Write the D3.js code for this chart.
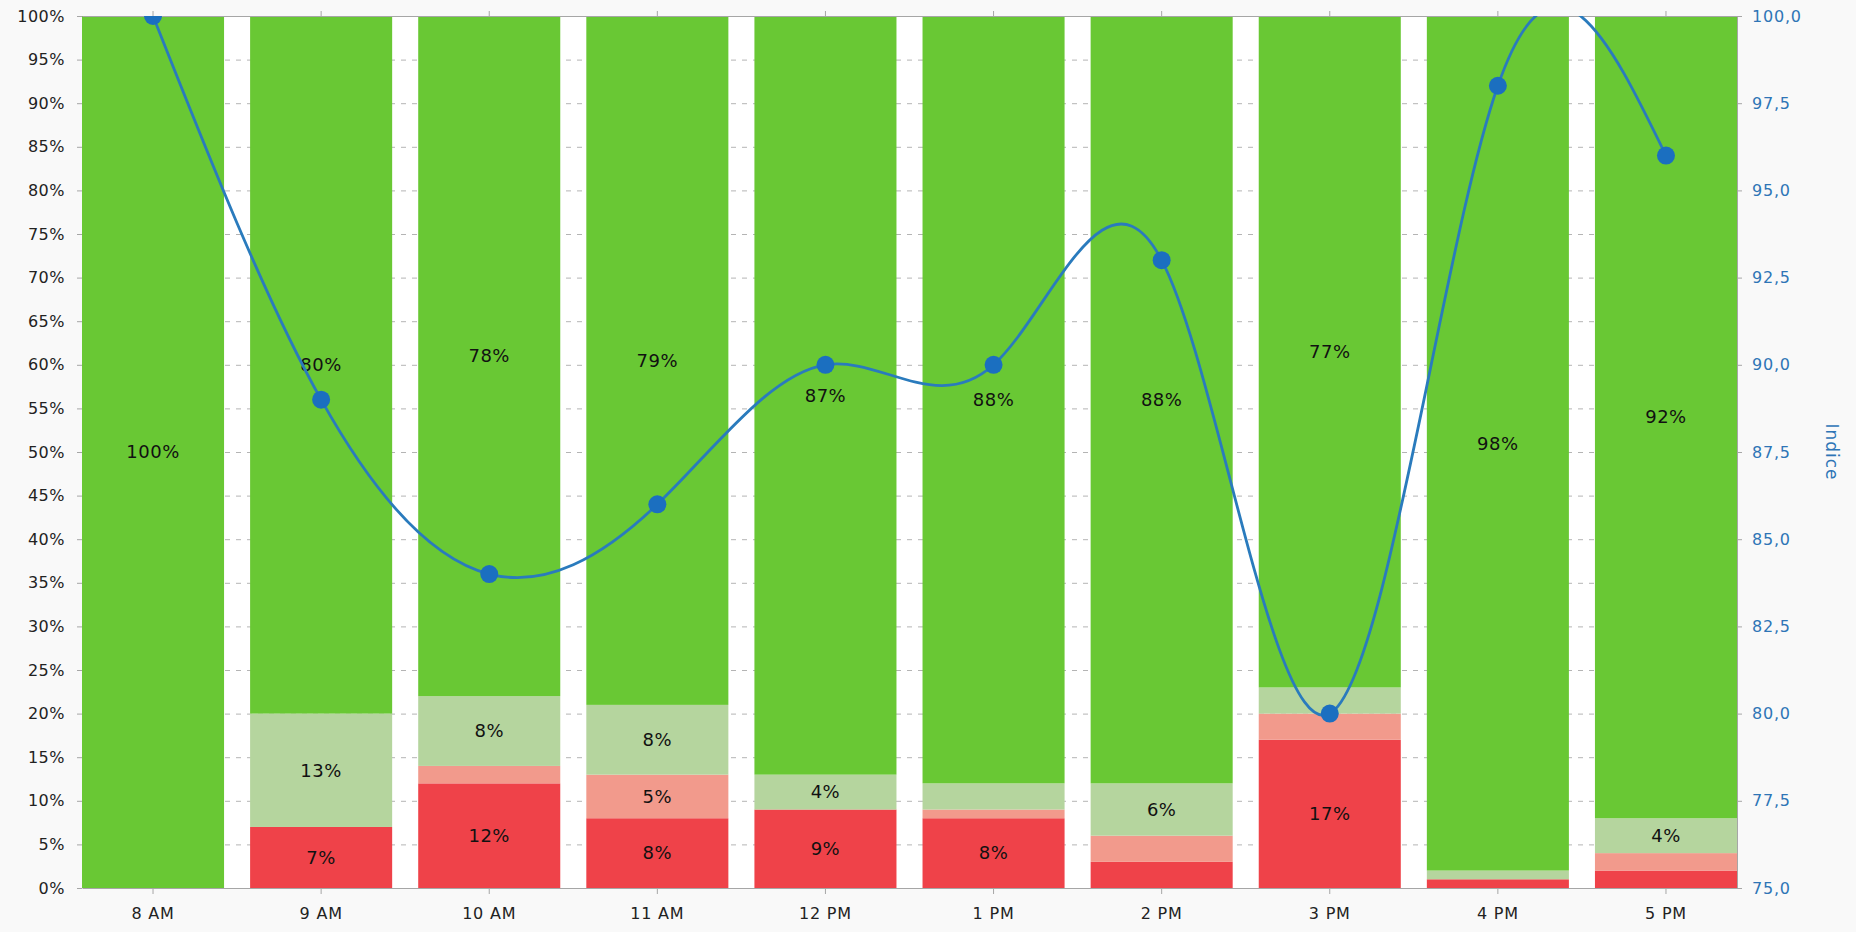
<!DOCTYPE html>
<html>
<head>
<meta charset="utf-8">
<script src="https://cdn.jsdelivr.net/npm/d3@7"></script>
<style>
body { margin:0; background:#f9f9f9; }
svg { display:block; font-family:"DejaVu Sans", Verdana, sans-serif; }
.grid line { stroke:#b4b4b4; stroke-dasharray:5,6; }
.axis path, .axis line { stroke:#a6a6a6; }
</style>
</head>
<body>
<svg id="chart" width="1856" height="932"></svg>
<script>
var hours = ["8 AM","9 AM","10 AM","11 AM","12 PM","1 PM","2 PM","3 PM","4 PM","5 PM"];
var redShare = [0,7,12,8,9,8,3,17,1,2];
var lightRedShare = [0,0,2,5,0,1,3,3,0,2];
var lightGreenShare = [0,13,8,8,4,3,6,3,1,4];
var greenShare = [100,80,78,79,87,88,88,77,98,92];
var indice = [100,89,84,86,90,90,93,80,98,96];
var leftTicks = [0,5,10,15,20,25,30,35,40,45,50,55,60,65,70,75,80,85,90,95,100];
var rightTicks = [75,77.5,80,82.5,85,87.5,90,92.5,95,97.5,100];

var seriesKeys = ["red","lightRed","lightGreen","green"];
var colorData = {red:"#ef4249", lightRed:"#f29a8c", lightGreen:"#b5d59e", green:"#69c834"};

var plotLeft = 82, plotRight = 1737, plotTop = 16, plotBottom = 888;
var svg = d3.select("#chart");

var rows = hours.map(function(h, i){
	return {hour:h, red:redShare[i], lightRed:lightRedShare[i], lightGreen:lightGreenShare[i], green:greenShare[i]};
});
var stacked = d3.stack().keys(seriesKeys)(rows);

var xScale = d3.scaleBand().domain(hours).range([plotLeft, plotRight]).paddingInner(0.155).paddingOuter(0);
var yScale = d3.scaleLinear().domain([0,100]).range([plotBottom, plotTop]);
var y2Scale = d3.scaleLinear().domain([75,100]).range([plotBottom, plotTop]);

svg.append("rect")
	.attr("x", plotLeft).attr("y", plotTop)
	.attr("width", plotRight-plotLeft).attr("height", plotBottom-plotTop)
	.attr("fill", "#ffffff");

// dashed grid behind bars
svg.append("g").attr("class","grid")
	.selectAll("line")
	.data(leftTicks.filter(function(t){ return t>0 && t<100; }))
	.enter().append("line")
	.attr("x1", plotLeft).attr("x2", plotRight)
	.attr("y1", function(t){ return yScale(t)+0.5; })
	.attr("y2", function(t){ return yScale(t)+0.5; });

var layer = svg.append("g").selectAll("g")
	.data(stacked).enter()
	.append("g")
	.attr("fill", function(s){ return colorData[s.key]; });

layer.selectAll("rect")
	.data(function(s){ return s; })
	.enter().append("rect")
	.attr("x", function(d){ return xScale(d.data.hour); })
	.attr("width", xScale.bandwidth())
	.attr("y", function(d){ return yScale(d[1]); })
	.attr("height", function(d){ return yScale(d[0]) - yScale(d[1]); });

// data labels, only for segments of 4% and more
var labelGroup = svg.append("g");
stacked.forEach(function(s){
	s.forEach(function(d){
		var v = d[1]-d[0];
		if(v < 4) return;
		labelGroup.append("text")
			.attr("x", xScale(d.data.hour) + xScale.bandwidth()/2)
			.attr("y", yScale((d[0]+d[1])/2))
			.attr("dy", "0.35em")
			.attr("text-anchor", "middle")
			.attr("font-size", 18)
			.attr("letter-spacing", 0.5)
			.attr("fill", "#111")
			.text(v + "%");
	});
});

// axes
var leftAxis = svg.append("g").attr("class","axis")
	.attr("transform","translate("+plotLeft+",0)")
	.call(d3.axisLeft(yScale).tickValues(leftTicks).tickSize(5).tickPadding(12)
		.tickFormat(function(t){ return t+"%"; }));
leftAxis.select(".domain").remove();
leftAxis.selectAll("text").attr("font-size",16).attr("letter-spacing",0.5).attr("fill","#222").style("font-family","DejaVu Sans");

var bottomAxis = svg.append("g").attr("class","axis")
	.attr("transform","translate(0,"+plotBottom+")")
	.call(d3.axisBottom(xScale).tickSize(6).tickSizeOuter(0).tickPadding(14));
bottomAxis.selectAll("text").attr("font-size",16).attr("letter-spacing",0.8).attr("fill","#222").style("font-family","DejaVu Sans");

var topAxis = svg.append("g").attr("class","axis")
	.attr("transform","translate(0,"+plotTop+")")
	.call(d3.axisTop(xScale).tickSize(5).tickSizeOuter(0).tickFormat(""));

var rightAxis = svg.append("g").attr("class","axis")
	.attr("transform","translate("+plotRight+",0)")
	.call(d3.axisRight(y2Scale).tickValues(rightTicks).tickSize(5).tickSizeOuter(0).tickPadding(10)
		.tickFormat(function(t){ return t.toFixed(1).replace(".", ","); }));
rightAxis.selectAll("text").attr("font-size",16).attr("letter-spacing",0.8).attr("fill","#2e75b6").style("font-family","DejaVu Sans");

svg.append("text")
	.attr("transform","translate(1826,"+((plotTop+plotBottom)/2)+") rotate(90)")
	.attr("text-anchor","middle")
	.attr("font-size",17)
	.attr("letter-spacing",1)
	.attr("fill","#2e75b6")
	.text("Indice");

// natural spline indice line, clipped to the plot area
svg.append("clipPath").attr("id","plotClip")
	.append("rect")
	.attr("x", plotLeft).attr("y", plotTop)
	.attr("width", plotRight-plotLeft).attr("height", plotBottom-plotTop);

var lineGroup = svg.append("g").attr("clip-path","url(#plotClip)");
var line = d3.line()
	.x(function(v, i){ return xScale(hours[i]) + xScale.bandwidth()/2; })
	.y(function(v){ return y2Scale(v); })
	.curve(d3.curveNatural);

lineGroup.append("path")
	.datum(indice)
	.attr("d", line)
	.attr("fill","none")
	.attr("stroke","#2a7bbd")
	.attr("stroke-width",2.8);

lineGroup.selectAll("circle")
	.data(indice).enter()
	.append("circle")
	.attr("cx", function(v, i){ return xScale(hours[i]) + xScale.bandwidth()/2; })
	.attr("cy", function(v){ return y2Scale(v); })
	.attr("r", 9)
	.attr("fill","#1b6fc0");
</script>
</body>
</html>
